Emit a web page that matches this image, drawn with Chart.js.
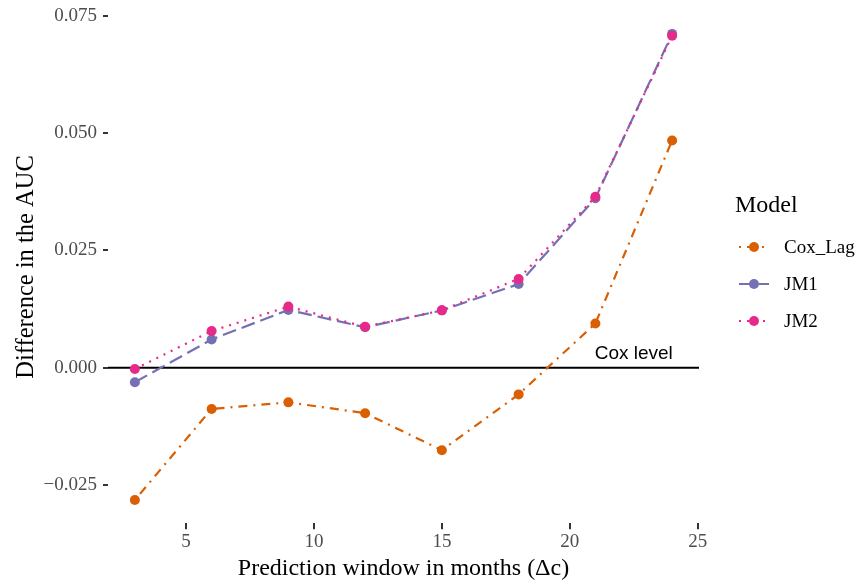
<!DOCTYPE html>
<html>
<head>
<meta charset="utf-8">
<title>Difference in the AUC by prediction window</title>
<script src="https://cdn.jsdelivr.net/npm/chart.js@4.4.1/dist/chart.umd.min.js"></script>
<style>
  html, body { margin: 0; padding: 0; background: #fff; }
  canvas { display: block; }
</style>
</head>
<body>
<canvas id="aucChart" width="858" height="580"></canvas>
<script>
// prediction windows in months
const windows = [3, 6, 9, 12, 15, 18, 21, 24];
// AUC difference against the reference Cox model
const coxLag = [-0.0282, -0.0088, -0.0074, -0.0097, -0.0176, -0.0057, 0.0094, 0.0484];
const jm1 = [-0.0031, 0.0060, 0.0123, 0.0086, 0.0122, 0.0178, 0.0361, 0.0711];
const jm2 = [-0.0003, 0.0078, 0.0130, 0.0087, 0.0122, 0.0189, 0.0364, 0.0707];

const xTicks = [5, 10, 15, 20, 25];
const yTicks = [-0.025, 0, 0.025, 0.05, 0.075];
const coxLevel = 0;

const SERIF = '"Liberation Serif", "Times New Roman", serif';
const SANS = '"Liberation Sans", Arial, sans-serif';

// ggplot-like 5% expansion around the data
function expand(values) {
  const lo = Math.min(...values), hi = Math.max(...values);
  const pad = (hi - lo) * 0.05;
  return [lo - pad, hi + pad];
}
const [xMin, xMax] = expand(windows);
const [yMin, yMax] = expand([...coxLag, ...jm1, ...jm2]);

const toPoints = (vals) => windows.map((w, i) => ({ x: w, y: vals[i] }));

function series(label, vals, color, dash, order) {
  return {
    label: label,
    data: toPoints(vals),
    borderColor: color,
    backgroundColor: color,
    pointBackgroundColor: color,
    borderWidth: 2.2,
    borderDash: dash,
    pointRadius: 5,
    pointBorderWidth: 0,
    pointHoverRadius: 5,
    tension: 0,
    fill: false,
    order: order
  };
}

// black reference line at the Cox level + its label
const coxLine = {
  id: 'coxLine',
  beforeDatasetsDraw(chart) {
    const { ctx, chartArea, scales } = chart;
    const y = scales.y.getPixelForValue(coxLevel);
    ctx.save();
    ctx.strokeStyle = '#000';
    ctx.lineWidth = 2;
    ctx.beginPath();
    ctx.moveTo(chartArea.left, y);
    ctx.lineTo(chartArea.right, y);
    ctx.stroke();
    ctx.fillStyle = '#000';
    ctx.font = '19px ' + SANS;
    ctx.textAlign = 'center';
    ctx.textBaseline = 'middle';
    ctx.fillText('Cox level', scales.x.getPixelForValue(22.5), scales.y.getPixelForValue(0.0029));
    ctx.restore();
  }
};

// legend on the right: dashed key with a point in the middle
const modelLegend = {
  id: 'modelLegend',
  afterDraw(chart) {
    const ctx = chart.ctx;
    ctx.save();
    ctx.textBaseline = 'middle';
    ctx.fillStyle = '#000';
    ctx.font = '24px ' + SERIF;
    ctx.fillText('Model', 735, 206);
    chart.data.datasets.forEach((ds, i) => {
      const y = 247 + i * 37;
      ctx.strokeStyle = ds.borderColor;
      ctx.lineWidth = ds.borderWidth;
      ctx.setLineDash(ds.borderDash);
      ctx.beginPath();
      ctx.moveTo(739, y);
      ctx.lineTo(769, y);
      ctx.stroke();
      ctx.setLineDash([]);
      ctx.fillStyle = ds.pointBackgroundColor;
      ctx.beginPath();
      ctx.arc(754, y, ds.pointRadius, 0, Math.PI * 2);
      ctx.fill();
      ctx.fillStyle = '#000';
      ctx.font = '19px ' + SERIF;
      ctx.fillText(ds.label, 784, y + 1);
    });
    ctx.restore();
  }
};

const fmtY = (v) => (v < 0 ? '\u2212' : '') + Math.abs(v).toFixed(3);

new Chart(document.getElementById('aucChart'), {
  type: 'line',
  data: {
    datasets: [
      series('Cox_Lag', coxLag, '#D95F02', [2, 6, 9, 6], 3),
      series('JM1', jm1, '#7570B3', [14, 6], 2),
      series('JM2', jm2, '#E7298A', [2, 6], 1)
    ]
  },
  options: {
    responsive: false,
    animation: false,
    devicePixelRatio: 1,
    layout: { padding: { left: 0, right: 159, top: 10.6, bottom: 0 } },
    plugins: {
      legend: { display: false },
      tooltip: { enabled: false }
    },
    scales: {
      x: {
        type: 'linear',
        min: xMin,
        max: xMax,
        afterBuildTicks: (axis) => { axis.ticks = xTicks.map(v => ({ value: v })); },
        afterFit: (axis) => {
          axis.height = 56.7;
          axis.paddingLeft = 0;
          axis.paddingRight = 0;
        },
        border: { display: false },
        grid: { drawOnChartArea: false, drawTicks: true, tickLength: 6, color: '#333', lineWidth: 2 },
        ticks: {
          color: '#4D4D4D',
          padding: 1,
          maxRotation: 0,
          font: { family: SERIF, size: 19 },
          callback: (v) => String(v)
        },
        title: {
          display: true,
          text: 'Prediction window in months (\u0394c)',
          color: '#000',
          font: { family: SERIF, size: 24, lineHeight: 0.9 },
          padding: 0
        }
      },
      y: {
        type: 'linear',
        min: yMin,
        max: yMax,
        afterBuildTicks: (axis) => { axis.ticks = yTicks.map(v => ({ value: v })); },
        afterFit: (axis) => {
          axis.width = 108;
          axis.paddingTop = 0;
          axis.paddingBottom = 0;
        },
        border: { display: false },
        grid: { drawOnChartArea: false, drawTicks: true, tickLength: 5, color: '#333', lineWidth: 2 },
        ticks: {
          color: '#4D4D4D',
          padding: 6,
          font: { family: SERIF, size: 19 },
          callback: (v) => fmtY(v)
        },
        title: {
          display: true,
          text: 'Difference in the AUC',
          color: '#000',
          font: { family: SERIF, size: 24.5, lineHeight: 1.2 },
          padding: { top: 12, bottom: 0 }
        }
      }
    }
  },
  plugins: [coxLine, modelLegend]
});
</script>
</body>
</html>
